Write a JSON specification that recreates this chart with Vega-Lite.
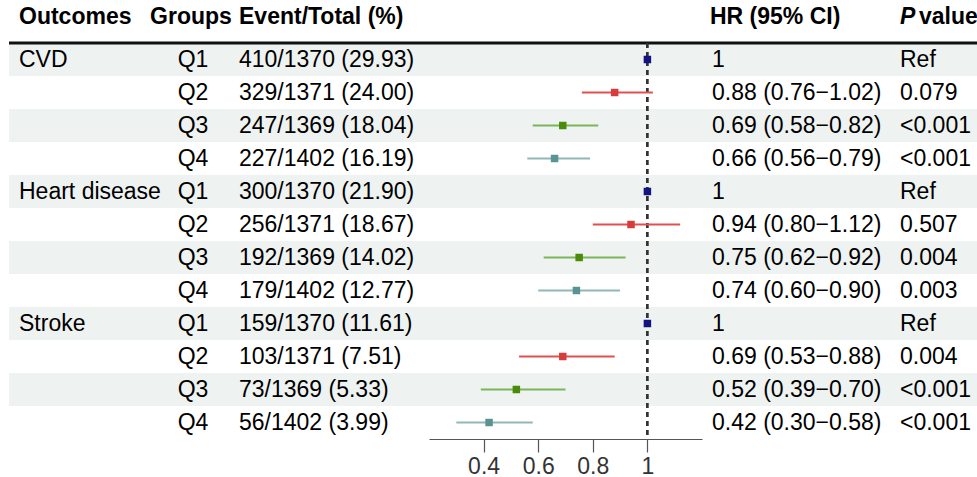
{
  "$schema": "https://vega.github.io/schema/vega-lite/v6.json",
  "padding": {"left": 7, "top": 5, "right": 0, "bottom": 0},
  "background": "white",
  "datasets": {
    "rows": [
      {"row": 1, "outcome": "CVD", "group": "Q1", "event": "410/1370 (29.93)", "hr": 1, "lo": 1, "hi": 1, "hrtext": "1", "p": "Ref"},
      {"row": 2, "outcome": "", "group": "Q2", "event": "329/1371 (24.00)", "hr": 0.88, "lo": 0.76, "hi": 1.02, "hrtext": "0.88 (0.76−1.02)", "p": "0.079"},
      {"row": 3, "outcome": "", "group": "Q3", "event": "247/1369 (18.04)", "hr": 0.69, "lo": 0.58, "hi": 0.82, "hrtext": "0.69 (0.58−0.82)", "p": "<0.001"},
      {"row": 4, "outcome": "", "group": "Q4", "event": "227/1402 (16.19)", "hr": 0.66, "lo": 0.56, "hi": 0.79, "hrtext": "0.66 (0.56−0.79)", "p": "<0.001"},
      {"row": 5, "outcome": "Heart disease", "group": "Q1", "event": "300/1370 (21.90)", "hr": 1, "lo": 1, "hi": 1, "hrtext": "1", "p": "Ref"},
      {"row": 6, "outcome": "", "group": "Q2", "event": "256/1371 (18.67)", "hr": 0.94, "lo": 0.80, "hi": 1.12, "hrtext": "0.94 (0.80−1.12)", "p": "0.507"},
      {"row": 7, "outcome": "", "group": "Q3", "event": "192/1369 (14.02)", "hr": 0.75, "lo": 0.62, "hi": 0.92, "hrtext": "0.75 (0.62−0.92)", "p": "0.004"},
      {"row": 8, "outcome": "", "group": "Q4", "event": "179/1402 (12.77)", "hr": 0.74, "lo": 0.60, "hi": 0.90, "hrtext": "0.74 (0.60−0.90)", "p": "0.003"},
      {"row": 9, "outcome": "Stroke", "group": "Q1", "event": "159/1370 (11.61)", "hr": 1, "lo": 1, "hi": 1, "hrtext": "1", "p": "Ref"},
      {"row": 10, "outcome": "", "group": "Q2", "event": "103/1371 (7.51)", "hr": 0.69, "lo": 0.53, "hi": 0.88, "hrtext": "0.69 (0.53−0.88)", "p": "0.004"},
      {"row": 11, "outcome": "", "group": "Q3", "event": "73/1369 (5.33)", "hr": 0.52, "lo": 0.39, "hi": 0.70, "hrtext": "0.52 (0.39−0.70)", "p": "<0.001"},
      {"row": 12, "outcome": "", "group": "Q4", "event": "56/1402 (3.99)", "hr": 0.42, "lo": 0.30, "hi": 0.58, "hrtext": "0.42 (0.30−0.58)", "p": "<0.001"}
    ],
    "hdr": [{"row": 1}]
  },
  "data": {"name": "rows"},
  "spacing": 0,
  "bounds": "flush",
  "hconcat": [
    {
      "width": 157, "height": 396,
      "title": {"text": "Outcomes", "dx": 10},
      "layer": [
        {"transform": [{"filter": "datum.row % 2 == 1"}], "mark": {"type": "rect", "color": "#eef2f1"},
         "encoding": {"y": {"field": "row", "type": "ordinal", "scale": {"domain": [1,2,3,4,5,6,7,8,9,10,11,12], "paddingInner": 0, "paddingOuter": 0}, "axis": null}}},
        {"data": {"name": "hdr"}, "mark": {"type": "rule", "color": "#111", "strokeWidth": 3},
         "encoding": {"y": {"field": "row", "type": "ordinal", "bandPosition": 0}}},
        {"mark": {"type": "text", "dx": 10, "clip": false},
         "encoding": {"y": {"field": "row", "type": "ordinal"}, "x": {"value": 0}, "text": {"field": "outcome"}}}
      ]
    },
    {
      "width": 50, "height": 396,
      "title": {"text": "Groups", "anchor": "middle"},
      "layer": [
        {"transform": [{"filter": "datum.row % 2 == 1"}], "mark": {"type": "rect", "color": "#eef2f1"},
         "encoding": {"y": {"field": "row", "type": "ordinal", "scale": {"domain": [1,2,3,4,5,6,7,8,9,10,11,12], "paddingInner": 0, "paddingOuter": 0}, "axis": null}}},
        {"data": {"name": "hdr"}, "mark": {"type": "rule", "color": "#111", "strokeWidth": 3},
         "encoding": {"y": {"field": "row", "type": "ordinal", "bandPosition": 0}}},
        {"mark": {"type": "text", "align": "center", "dx": 2, "clip": false},
         "encoding": {"y": {"field": "row", "type": "ordinal"}, "text": {"field": "group"}}}
      ]
    },
    {
      "width": 213, "height": 396,
      "title": {"text": "Event/Total (%)", "dx": 23},
      "layer": [
        {"transform": [{"filter": "datum.row % 2 == 1"}], "mark": {"type": "rect", "color": "#eef2f1"},
         "encoding": {"y": {"field": "row", "type": "ordinal", "scale": {"domain": [1,2,3,4,5,6,7,8,9,10,11,12], "paddingInner": 0, "paddingOuter": 0}, "axis": null}}},
        {"data": {"name": "hdr"}, "mark": {"type": "rule", "color": "#111", "strokeWidth": 3},
         "encoding": {"y": {"field": "row", "type": "ordinal", "bandPosition": 0}}},
        {"mark": {"type": "text", "dx": 23, "clip": false},
         "encoding": {"y": {"field": "row", "type": "ordinal"}, "x": {"value": 0}, "text": {"field": "event"}}}
      ]
    },
    {
      "width": 273, "height": 396,
      "layer": [
        {"transform": [{"filter": "datum.row % 2 == 1"}], "mark": {"type": "rect", "color": "#eef2f1"},
         "encoding": {"y": {"field": "row", "type": "ordinal", "scale": {"domain": [1,2,3,4,5,6,7,8,9,10,11,12], "paddingInner": 0, "paddingOuter": 0}, "axis": null}}},
        {"data": {"name": "hdr"}, "mark": {"type": "rule", "color": "#111", "strokeWidth": 3},
         "encoding": {"y": {"field": "row", "type": "ordinal", "bandPosition": 0}}},
        {"mark": {"type": "rule", "color": "#333", "strokeWidth": 1.4, "strokeDash": [5, 4]},
         "encoding": {"x": {"datum": 1, "type": "quantitative"}}},
        {"mark": {"type": "rule", "strokeWidth": 2},
         "encoding": {
           "y": {"field": "row", "type": "ordinal"},
           "x": {"field": "lo", "type": "quantitative", "scale": {"domain": [0.2, 1.2], "nice": false, "zero": false},
                 "axis": {"values": [0.4, 0.6, 0.8, 1], "format": "~g", "title": null, "grid": false, "tickSize": 13, "labelPadding": 3, "labelFontSize": 23, "labelFont": "Liberation Sans", "labelColor": "#333", "tickColor": "#555", "domainColor": "#555", "tickWidth": 1.2, "domainWidth": 1.2}},
           "x2": {"field": "hi"},
           "color": {"field": "group", "type": "nominal", "scale": {"domain": ["Q1","Q2","Q3","Q4"], "range": ["#141480", "#e05050", "#7ab55c", "#90b8b8"]}, "legend": null}
         }},
        {"mark": {"type": "point", "shape": "square", "filled": true, "size": 56, "opacity": 1},
         "encoding": {
           "y": {"field": "row", "type": "ordinal"},
           "x": {"field": "hr", "type": "quantitative"},
           "color": {"field": "group", "type": "nominal", "scale": {"domain": ["Q1","Q2","Q3","Q4"], "range": ["#141480", "#d63c3c", "#4a8c0a", "#5a9393"]}, "legend": null}
         }}
      ],
      "resolve": {"scale": {"color": "independent"}}
    },
    {
      "width": 194, "height": 396,
      "title": {"text": "HR (95% CI)", "dx": 8},
      "layer": [
        {"transform": [{"filter": "datum.row % 2 == 1"}], "mark": {"type": "rect", "color": "#eef2f1"},
         "encoding": {"y": {"field": "row", "type": "ordinal", "scale": {"domain": [1,2,3,4,5,6,7,8,9,10,11,12], "paddingInner": 0, "paddingOuter": 0}, "axis": null}}},
        {"data": {"name": "hdr"}, "mark": {"type": "rule", "color": "#111", "strokeWidth": 3},
         "encoding": {"y": {"field": "row", "type": "ordinal", "bandPosition": 0}}},
        {"mark": {"type": "text", "dx": 10, "clip": false},
         "encoding": {"y": {"field": "row", "type": "ordinal"}, "x": {"value": 0}, "text": {"field": "hrtext"}}}
      ]
    },
    {
      "width": 18, "height": 396,
      "title": {"text": "P", "dx": 4, "fontStyle": "italic"},
      "layer": [
        {"transform": [{"filter": "datum.row % 2 == 1"}], "mark": {"type": "rect", "color": "#eef2f1"},
         "encoding": {"y": {"field": "row", "type": "ordinal", "scale": {"domain": [1,2,3,4,5,6,7,8,9,10,11,12], "paddingInner": 0, "paddingOuter": 0}, "axis": null}}},
        {"data": {"name": "hdr"}, "mark": {"type": "rule", "color": "#111", "strokeWidth": 3},
         "encoding": {"y": {"field": "row", "type": "ordinal", "bandPosition": 0}}}
      ]
    },
    {
      "width": 65, "height": 396,
      "title": {"text": "value", "dx": 5},
      "layer": [
        {"transform": [{"filter": "datum.row % 2 == 1"}], "mark": {"type": "rect", "color": "#eef2f1"},
         "encoding": {"y": {"field": "row", "type": "ordinal", "scale": {"domain": [1,2,3,4,5,6,7,8,9,10,11,12], "paddingInner": 0, "paddingOuter": 0}, "axis": null}}},
        {"data": {"name": "hdr"}, "mark": {"type": "rule", "color": "#111", "strokeWidth": 3},
         "encoding": {"y": {"field": "row", "type": "ordinal", "bandPosition": 0}}},
        {"mark": {"type": "text", "dx": -14, "clip": false},
         "encoding": {"y": {"field": "row", "type": "ordinal"}, "x": {"value": 0}, "text": {"field": "p"}}}
      ]
    }
  ],
  "config": {
    "view": {"stroke": null},
    "font": "Liberation Sans",
    "title": {"fontSize": 23, "fontWeight": "bold", "color": "#000", "anchor": "start", "frame": "group", "baseline": "alphabetic", "offset": 13, "font": "Liberation Sans"},
    "text": {"fontSize": 23, "font": "Liberation Sans", "color": "#000", "baseline": "middle", "align": "left"}
  }
}
